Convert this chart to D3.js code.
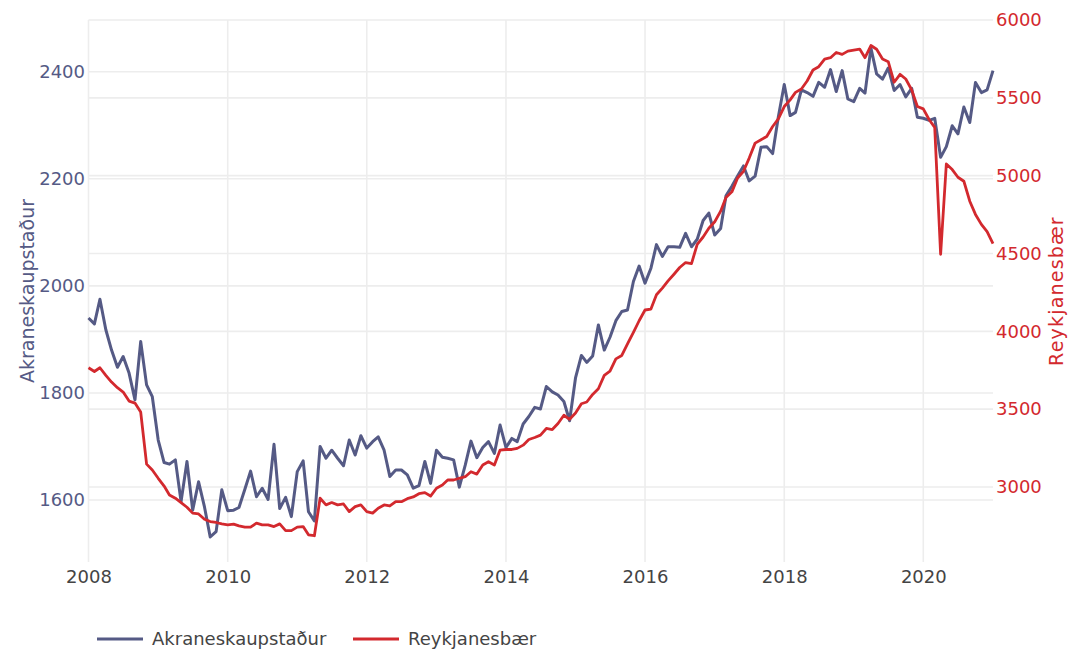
<!DOCTYPE html>
<meta charset="utf-8">
<head>
    <script src="https://d3js.org/d3.v7.min.js"></script>
    <style>
        body {
            margin: 0;
            background-color: #fff;
        }

        svg text {
            font-family: "DejaVu Sans", Verdana, sans-serif;
        }
    </style>
</head>

<body>
    <div class="viz"></div>

    <script>
        // monthly values, Jan 2008 - Jan 2021
        var startMonth = new Date(2008, 0, 1);

        var akranes = [
            1940, 1929, 1975, 1918, 1880, 1848, 1868, 1837, 1787, 1896, 1815, 1793,
            1712, 1670, 1667, 1675, 1597, 1672, 1581, 1634, 1587, 1531, 1541, 1619,
            1580, 1581, 1586, 1620, 1654, 1606, 1622, 1601, 1704, 1584, 1605, 1569,
            1653, 1673, 1578, 1561, 1700, 1678, 1693, 1678, 1664, 1712, 1684, 1720,
            1697, 1709, 1718, 1693, 1644, 1656, 1656, 1647, 1622, 1627, 1672, 1631,
            1693, 1680, 1678, 1675, 1624, 1665, 1710, 1679, 1698, 1709, 1687, 1740,
            1698, 1715, 1709, 1742, 1756, 1773, 1770, 1812, 1802, 1796, 1784, 1748,
            1828, 1870, 1857, 1869, 1927, 1880, 1904, 1935, 1952, 1955, 2008, 2037,
            2005, 2033, 2077, 2055, 2073, 2073, 2072, 2098, 2073, 2087, 2122, 2136,
            2095, 2107, 2168, 2186, 2205, 2224, 2196, 2205, 2259, 2260, 2247, 2316,
            2376, 2318, 2324, 2366, 2361, 2354, 2380, 2371, 2404, 2363, 2402, 2349,
            2344, 2369, 2360, 2444, 2396, 2386, 2407, 2365, 2376, 2353, 2369, 2315,
            2313, 2309, 2313, 2240, 2260, 2299, 2284, 2334, 2305, 2380, 2361, 2366,
            2402
        ];

        var reykjanes = [
            3766, 3742, 3766, 3717, 3674, 3638, 3610, 3552, 3539, 3482, 3147, 3109,
            3056, 3006, 2949, 2928, 2900, 2870, 2832, 2827, 2793, 2778, 2772, 2763,
            2757, 2761, 2750, 2742, 2742, 2768, 2757, 2757, 2746, 2763, 2720, 2720,
            2742, 2746, 2693, 2687, 2928, 2885, 2900, 2885, 2891, 2842, 2874, 2885,
            2842, 2832, 2864, 2885, 2878, 2906, 2906, 2925, 2936, 2957, 2964, 2942,
            2992, 3013, 3045, 3045, 3056, 3066, 3098, 3083, 3141, 3162, 3141, 3237,
            3241, 3241, 3248, 3269, 3305, 3318, 3333, 3376, 3369, 3408, 3461, 3435,
            3475, 3535, 3546, 3595, 3631, 3717, 3744, 3823, 3845, 3919, 3994, 4068,
            4137, 4143, 4235, 4278, 4324, 4367, 4410, 4442, 4435, 4559, 4606, 4662,
            4704, 4772, 4860, 4896, 4985, 5028, 5113, 5209, 5231, 5252, 5316, 5365,
            5444, 5487, 5535, 5557, 5608, 5679, 5700, 5749, 5758, 5791, 5779, 5800,
            5807, 5813, 5758, 5836, 5812, 5749, 5732, 5600, 5651, 5621, 5551, 5444,
            5429, 5359, 5310, 4495, 5075, 5039, 4990, 4964, 4836, 4751, 4687, 4640,
            4563
        ];

        var xTickYears = [2008, 2010, 2012, 2014, 2016, 2018, 2020];
        var leftTicks = [1600, 1800, 2000, 2200, 2400];
        var rightTicks = [3000, 3500, 4000, 4500, 5000, 5500, 6000];

        var seriesNames = ["Akraneskaupstaður", "Reykjanesbær"];
        var seriesColors = ["#555a85", "#d3292e"];

        var width = 1069,
            height = 651;

        var plot = { left: 88.5, right: 993, top: 20, bottom: 562 };

        var x = d3.scaleTime()
            .domain([startMonth, new Date(2021, 0, 1)])
            .range([plot.left, plot.right]);

        var yLeft = d3.scaleLinear().domain([1600, 2400]).range([500, 71.7]);
        var yRight = d3.scaleLinear().domain([3000, 6000]).range([487, 20]);

        function monthDate(i) {
            return d3.timeMonth.offset(startMonth, i);
        }

        var svg = d3.select("div.viz").append("svg")
            .attr("width", width)
            .attr("height", height);

        var grid = svg.append("g").attr("class", "grid")
            .style("stroke", "#ededed")
            .style("stroke-width", 1.6);

        // vertical grid
        grid.selectAll("line.vx")
            .data(xTickYears)
            .enter().append("line")
            .attr("x1", function(d) { return x(new Date(d, 0, 1)); })
            .attr("x2", function(d) { return x(new Date(d, 0, 1)); })
            .attr("y1", plot.top)
            .attr("y2", plot.bottom);

        // horizontal grid, both y axes
        grid.selectAll("line.hl")
            .data(leftTicks)
            .enter().append("line")
            .attr("x1", plot.left).attr("x2", plot.right)
            .attr("y1", function(d) { return yLeft(d); })
            .attr("y2", function(d) { return yLeft(d); });

        grid.selectAll("line.hr")
            .data(rightTicks)
            .enter().append("line")
            .attr("x1", plot.left).attr("x2", plot.right)
            .attr("y1", function(d) { return yRight(d); })
            .attr("y2", function(d) { return yRight(d); });

        // axes - labels only, no domain or tick marks
        var xAxis = d3.axisBottom(x)
            .tickValues(xTickYears.map(function(d) { return new Date(d, 0, 1); }))
            .tickFormat(d3.timeFormat("%Y"))
            .tickSize(0).tickPadding(0);

        var gx = svg.append("g")
            .attr("transform", "translate(0," + 577 + ")")
            .call(xAxis);
        gx.select(".domain").remove();
        gx.selectAll("text")
            .attr("dy", "0.35em")
            .style("font-size", "18px")
            .style("fill", "#444")
            .style("font-family", '"DejaVu Sans", Verdana, sans-serif');

        var gl = svg.append("g")
            .attr("transform", "translate(" + 85 + ",0)")
            .call(d3.axisLeft(yLeft).tickValues(leftTicks).tickFormat(d3.format("d")).tickSize(0).tickPadding(0));
        gl.select(".domain").remove();
        gl.selectAll("text")
            .style("font-size", "18px")
            .style("fill", "#555a85")
            .style("font-family", '"DejaVu Sans", Verdana, sans-serif');

        var gr = svg.append("g")
            .attr("transform", "translate(" + 996 + ",0)")
            .call(d3.axisRight(yRight).tickValues(rightTicks).tickFormat(d3.format("d")).tickSize(0).tickPadding(0));
        gr.select(".domain").remove();
        gr.selectAll("text")
            .style("font-size", "18px")
            .style("fill", "#d3292e")
            .style("font-family", '"DejaVu Sans", Verdana, sans-serif');

        // axis titles
        svg.append("text")
            .attr("transform", "translate(27," + (plot.top + plot.bottom) / 2 + ") rotate(-90)")
            .attr("text-anchor", "middle")
            .attr("dy", "0.35em")
            .style("font-size", "19px")
            .style("fill", "#555a85")
            .text(seriesNames[0]);

        svg.append("text")
            .attr("transform", "translate(1063," + (plot.top + plot.bottom) / 2 + ") rotate(-90)")
            .attr("text-anchor", "middle")
            .style("font-size", "19px")
            .style("letter-spacing", "1.2px")
            .style("fill", "#d3292e")
            .text(seriesNames[1]);

        // lines
        var lineLeft = d3.line()
            .x(function(d, i) { return x(monthDate(i)); })
            .y(function(d) { return yLeft(d); });

        var lineRight = d3.line()
            .x(function(d, i) { return x(monthDate(i)); })
            .y(function(d) { return yRight(d); });

        svg.append("path")
            .datum(akranes)
            .attr("d", lineLeft)
            .style("fill", "none")
            .style("stroke", seriesColors[0])
            .style("stroke-width", 3)
            .style("stroke-linejoin", "round");

        svg.append("path")
            .datum(reykjanes)
            .attr("d", lineRight)
            .style("fill", "none")
            .style("stroke", seriesColors[1])
            .style("stroke-width", 2.8)
            .style("stroke-linejoin", "round");

        // legend
        var legendX = [97, 353];
        var legend = svg.selectAll("g.legend")
            .data(seriesNames)
            .enter().append("g")
            .attr("class", "legend")
            .attr("transform", function(d, i) { return "translate(" + legendX[i] + ",639)"; });

        legend.append("line")
            .attr("x1", 0).attr("x2", 46)
            .attr("y1", 0).attr("y2", 0)
            .style("stroke", function(d, i) { return seriesColors[i]; })
            .style("stroke-width", 3);

        legend.append("text")
            .attr("x", 55)
            .attr("dy", "0.35em")
            .style("font-size", "18px")
            .style("fill", "#444")
            .text(function(d) { return d; });
    </script>
</body>
